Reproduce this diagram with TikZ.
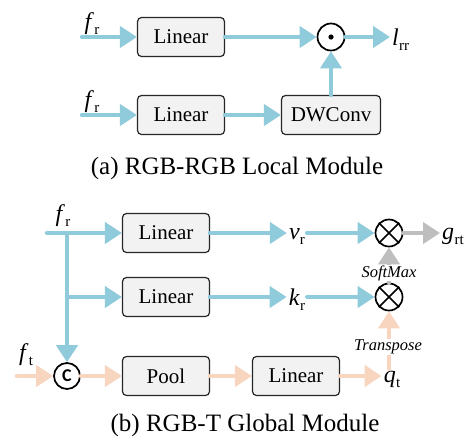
\documentclass[tikz,border=0pt]{standalone}
\usepackage{fontspec}
\setmainfont{Liberation Serif}
\newfontfamily\csans{Carlito}
\usetikzlibrary{arrows.meta}

\definecolor{flowblue}{RGB}{143,203,219}
\definecolor{flowpeach}{RGB}{248,213,190}
\definecolor{flowgray}{RGB}{190,190,190}
\definecolor{boxfill}{RGB}{242,242,242}

% variable with an upright subscript
\newcommand\mvar[2]{\textit{#1}\kern0.3pt\raisebox{-5pt}{\fontsize{15}{15}\selectfont #2}}

\tikzset{
  opbox/.style={draw=black!85, fill=boxfill, rounded corners=4pt, line width=1.2pt,
    minimum width=87pt, minimum height=39pt, inner sep=0pt,
    font=\fontsize{21}{24}\selectfont},
  opcirc/.style={circle, draw=black, line width=1.7pt, minimum size=27pt, inner sep=0pt},
  varlbl/.style={inner sep=2pt, font=\fontsize{24}{26}\selectfont},
  oplbl/.style={inner sep=0.5pt, fill=white, font=\fontsize{16.5}{18}\selectfont\itshape},
  caption/.style={inner sep=0pt, font=\fontsize{25}{28}\selectfont},
  flow/.style={line width=4.5pt, line cap=round, -{Triangle[length=17pt,width=21pt]}},
  blueflow/.style={flow, draw=flowblue},
  peachflow/.style={flow, draw=flowpeach},
  grayflow/.style={flow, draw=flowgray},
}

\begin{document}
\begin{tikzpicture}[x=1pt, y=-1pt]
\useasboundingbox (0,0) rectangle (473,440);

% ---------- (a) RGB-RGB local module ----------
\coordinate (s1) at (82,37);
\coordinate (s2) at (82,115);
\node[varlbl] (fr1) at (92,24) {\mvar{f}{r}};
\node[varlbl] (fr2) at (92,102) {\mvar{f}{r}};
\node[opbox] (lin1) at (181,37) {Linear};
\node[opbox] (lin2) at (181,115) {Linear};
\node[opbox, minimum width=99pt] (dw) at (331,115) {DWConv};
\node[opcirc] (odot) at (331,37) {};
\fill (odot.center) circle (2.6pt);
\node[varlbl, anchor=west] (lrr) at (390,40) {\mvar{l}{rr}};

\draw[blueflow] (s1) -- (lin1);
\draw[blueflow] (lin1) -- (odot);
\draw[blueflow] (odot) -- (lrr.west |- odot);
\draw[blueflow] (s2) -- (lin2);
\draw[blueflow] (lin2) -- (dw);
\draw[blueflow] (dw) -- (odot);

\node[caption] (capa) at (237,168) {(a) RGB-RGB Local Module};

% ---------- (b) RGB-T global module ----------
\coordinate (s3) at (47,233);
\coordinate (b1) at (67,233);
\coordinate (s4) at (17,376);
\node[varlbl] (fr3) at (63,216) {\mvar{f}{r}};
\node[varlbl] (ft) at (26,355) {\mvar{f}{t}};

\node[opbox] (lin3) at (166,233) {Linear};
\node[opbox] (lin4) at (166,297) {Linear};
\node[opbox] (pool) at (166,376) {Pool};
\node[opbox] (lin5) at (296,376) {Linear};

\node[opcirc, minimum size=26pt] (cat) at (67,376) {\csans\bfseries\fontsize{18}{18}\selectfont C};
\node[opcirc] (ot1) at (389,233) {};
\node[opcirc] (ot2) at (389,297) {};
\foreach \n in {ot1,ot2}{
  \draw[line width=1.7pt] (\n.north west) -- (\n.south east)
                          (\n.north east) -- (\n.south west);
}

\node[varlbl] (vr) at (297,236) {\mvar{v}{r}};
\node[varlbl] (kr) at (297,300) {\mvar{k}{r}};
\node[varlbl] (qt) at (392,379) {\mvar{q}{t}};
\node[varlbl, anchor=west] (grt) at (440,236) {\mvar{g}{rt}};

% rgb branch
\draw[blueflow] (s3) -- (lin3);
\draw[blueflow] (b1) -- (cat);
\draw[blueflow] (b1 |- lin4) -- (lin4);
\draw[blueflow] (lin3) -- (vr.west |- lin3);
\draw[blueflow] (vr.east |- ot1) -- (ot1);
\draw[blueflow] (lin4) -- (kr.west |- lin4);
\draw[blueflow] (kr.east |- ot2) -- (ot2);

% thermal branch
\draw[peachflow] (s4) -- (cat);
\draw[peachflow] (cat) -- (pool);
\draw[peachflow] (pool) -- (lin5);
\draw[peachflow] (lin5) -- (qt.west |- lin5);
\draw[peachflow] (ot2 |- qt.north) -- (ot2);
\node[oplbl] (tr) at (388,347) {Transpose};

% attention output
\draw[grayflow] (ot2) -- (ot1);
\node[oplbl] (sm) at (389,273) {SoftMax};
\draw[grayflow] (ot1) -- (grt.west |- ot1);

\node[caption] (capb) at (245,425) {(b) RGB-T Global Module};
\end{tikzpicture}
\end{document}
